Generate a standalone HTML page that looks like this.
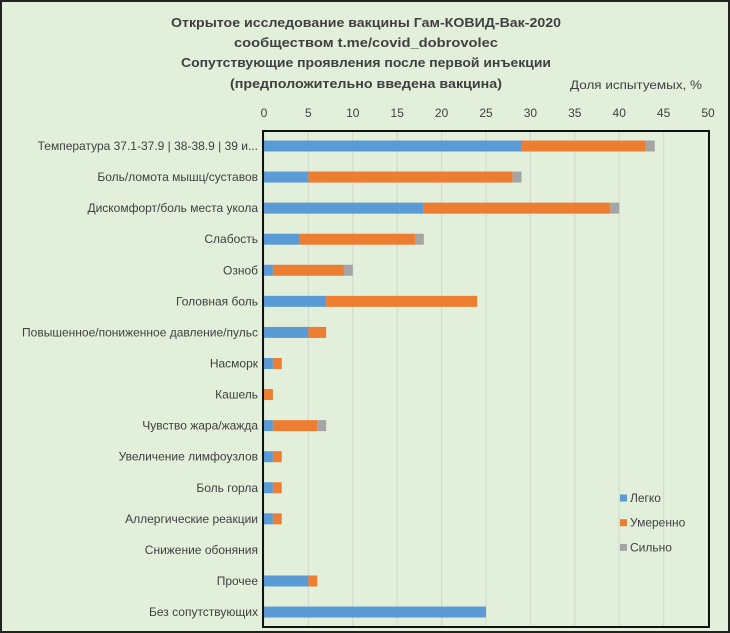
<!DOCTYPE html>
<html><head><meta charset="utf-8"><style>
html,body{margin:0;padding:0;background:#e2efda}
svg{display:block;font-family:"Liberation Sans","DejaVu Sans",sans-serif}
</style></head><body>
<svg id="chart" width="730" height="633" xmlns="http://www.w3.org/2000/svg">
<rect x="1" y="1" width="728" height="631" fill="#e2efda" stroke="#222" stroke-width="2"/>
<g font-weight="bold" font-size="13" fill="#404040" text-anchor="middle">
<text x="366" y="27" textLength="390" lengthAdjust="spacingAndGlyphs">Открытое исследование вакцины Гам-КОВИД-Вак-2020</text>
<text x="366" y="47" textLength="264" lengthAdjust="spacingAndGlyphs">сообществом t.me/covid_dobrovolec</text>
<text x="366" y="67" textLength="370" lengthAdjust="spacingAndGlyphs">Сопутствующие проявления после первой инъекции</text>
<text x="366" y="88" textLength="272" lengthAdjust="spacingAndGlyphs">(предположительно введена вакцина)</text>
</g>
<text x="570" y="89" font-size="11.5" fill="#404040" textLength="132" lengthAdjust="spacingAndGlyphs">Доля испытуемых, %</text>
<g id="grid"></g>
<g id="bars"></g>
<g id="ticks"></g>
<g id="cats"></g>
<rect x="263" y="131" width="446" height="496" fill="none" stroke="#111" stroke-width="2"/>
<g id="legend"></g>
</svg>
<script>
const categories=["Температура 37.1-37.9 | 38-38.9 | 39 и...","Боль/ломота мышц/суставов","Дискомфорт/боль места укола","Слабость","Озноб","Головная боль","Повышенное/пониженное давление/пульс","Насморк","Кашель","Чувство жара/жажда","Увеличение лимфоузлов","Боль горла","Аллергические реакции","Снижение обоняния","Прочее","Без сопутствующих"];
const mild=[29,5,18,4,1,7,5,1,0,1,1,1,1,0,5,25];
const moderate=[14,23,21,13,8,17,2,1,1,5,1,1,1,0,1,0];
const severe=[1,1,1,1,1,0,0,0,0,1,0,0,0,0,0,0];
const seriesNames=["Легко","Умеренно","Сильно"];
const tickValues=[0,5,10,15,20,25,30,35,40,45,50];
const colors=["#5b9bd5","#ed7d31","#a5a5a5"];
const NS="http://www.w3.org/2000/svg";
const x0=264,x1=708,xmax=50;
const xs=v=>x0+v/xmax*(x1-x0);
const yc=i=>146+i*31.07;
function mk(t,a,p){const e=document.createElementNS(NS,t);for(const k in a)e.setAttribute(k,a[k]);p.appendChild(e);return e;}
const grid=document.getElementById('grid'),ticks=document.getElementById('ticks');
tickValues.forEach(v=>{
 const l=mk('line',{x1:xs(v),x2:xs(v),y1:131,y2:627,stroke:'#d0d8cc','stroke-width':1},grid);
 
 
 const t=mk('text',{x:xs(v),y:117,'font-size':12,fill:'#404040','text-anchor':'middle'},ticks);
 t.textContent=v;
 
 
});
const bars=document.getElementById('bars'),cats=document.getElementById('cats');
const series=[mild,moderate,severe];
categories.forEach((c,i)=>{
 const t=mk('text',{x:258,y:yc(i)+4,'font-size':12,fill:'#404040','text-anchor':'end'},cats);
 t.textContent=c;
 
 
 let acc=0;
 series.forEach((s,k)=>{
  const v=s[i];if(v>0){
   const r=mk('rect',{x:xs(acc),y:yc(i)-5.5,width:xs(acc+v)-xs(acc),height:11,fill:colors[k]},bars);
   
   
  }
  acc+=v;
 });
});
const lg=document.getElementById('legend');
seriesNames.forEach((n,k)=>{
 const y=498+k*24.7;
 const r=mk('rect',{x:620,y:y-3.5,width:7,height:7,fill:colors[k]},lg);
 
 
 const t=mk('text',{x:630,y:y+4,'font-size':12,fill:'#404040'},lg);
 t.textContent=n;
 
 
});
</script>
</body></html>
